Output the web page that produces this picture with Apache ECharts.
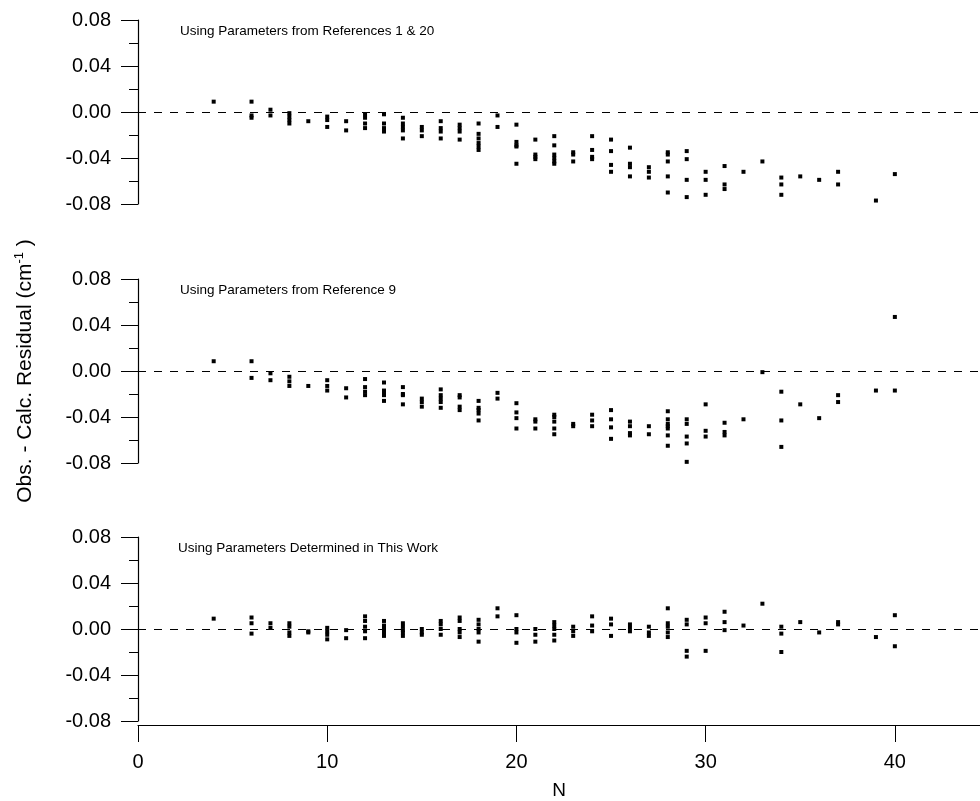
<!DOCTYPE html>
<html>
<head>
    <meta charset="utf-8">
    <title>Residuals</title>
    <script src="https://cdn.jsdelivr.net/npm/echarts@6/dist/echarts.min.js"></script>
    <style type="text/css">
        html, body { margin: 0; padding: 0; background: #fff; }
        #chart { width: 980px; height: 801px; }
    </style>
</head>
<body>
    <div id="chart"></div>
    <script type="text/javascript">
        // N values shared by all three panels
        var nValues = [4, 6, 7, 8, 9, 10, 11, 12, 13, 14, 15, 16, 17, 18, 19, 20, 21, 22, 23, 24,
                       25, 26, 27, 28, 29, 30, 31, 32, 33, 34, 35, 36, 37, 39, 40];

        // residuals read per N, panel 1 (References 1 & 20)
        var resRef1and20 = [
            [0.009], [0.009, -0.003, -0.005], [0.002, -0.003], [-0.001, -0.004, -0.007, -0.010],
            [-0.008], [-0.004, -0.007, -0.013], [-0.008, -0.016], [-0.002, -0.005, -0.010, -0.014],
            [-0.002, -0.010, -0.014, -0.017], [-0.005, -0.010, -0.013, -0.016, -0.023],
            [-0.013, -0.016, -0.021], [-0.008, -0.014, -0.017, -0.023], [-0.011, -0.014, -0.017, -0.024],
            [-0.010, -0.019, -0.023, -0.027, -0.030, -0.033], [-0.003, -0.013],
            [-0.011, -0.026, -0.029, -0.030, -0.045], [-0.024, -0.037, -0.039, -0.041],
            [-0.021, -0.029, -0.037, -0.040, -0.043, -0.045], [-0.035, -0.037, -0.043],
            [-0.021, -0.033, -0.039, -0.041], [-0.024, -0.034, -0.046, -0.052],
            [-0.031, -0.045, -0.048, -0.056], [-0.048, -0.052, -0.057],
            [-0.035, -0.037, -0.043, -0.056, -0.070], [-0.034, -0.041, -0.059, -0.074],
            [-0.052, -0.059, -0.072], [-0.047, -0.063, -0.067], [-0.052], [-0.043],
            [-0.057, -0.063, -0.072], [-0.056], [-0.059], [-0.052, -0.063], [-0.077], [-0.054]
        ];

        // panel 2 (Reference 9)
        var resRef9 = [
            [0.0085], [0.0085, -0.006], [-0.002, -0.008], [-0.005, -0.009, -0.013], [-0.013],
            [-0.008, -0.013, -0.017], [-0.015, -0.023], [-0.007, -0.014, -0.018, -0.021],
            [-0.010, -0.017, -0.020, -0.021, -0.026], [-0.014, -0.020, -0.021, -0.029],
            [-0.024, -0.027, -0.031], [-0.016, -0.021, -0.024, -0.027, -0.032],
            [-0.021, -0.023, -0.031, -0.034], [-0.026, -0.032, -0.034, -0.037, -0.043],
            [-0.019, -0.024], [-0.028, -0.036, -0.041, -0.050], [-0.042, -0.044, -0.050],
            [-0.038, -0.040, -0.044, -0.050, -0.055], [-0.046, -0.048], [-0.038, -0.043, -0.048],
            [-0.034, -0.042, -0.049, -0.059], [-0.044, -0.048, -0.054, -0.056], [-0.048, -0.055],
            [-0.035, -0.042, -0.046, -0.048, -0.050, -0.056, -0.065],
            [-0.042, -0.046, -0.057, -0.063, -0.079], [-0.029, -0.052, -0.057],
            [-0.045, -0.053, -0.056], [-0.042], [-0.001], [-0.018, -0.043, -0.066], [-0.029],
            [-0.041], [-0.021, -0.027], [-0.017], [0.047, -0.017]
        ];

        // panel 3 (this work)
        var resThisWork = [
            [0.009], [0.010, 0.005, -0.004], [0.005, 0.001], [0.005, 0.002, -0.003, -0.006],
            [-0.002, -0.003], [0.001, -0.002, -0.005, -0.009], [-0.001, -0.008],
            [0.011, 0.007, 0.002, -0.002, -0.008], [0.007, 0.003, 0.000, -0.003, -0.006],
            [0.005, 0.002, -0.001, -0.003, -0.006], [0.000, -0.003, -0.005],
            [0.007, 0.004, 0.000, -0.005], [0.010, 0.007, 0.000, -0.003, -0.007],
            [0.008, 0.004, 0.000, -0.003, -0.011], [0.018, 0.011], [0.012, 0.000, -0.003, -0.012],
            [0.000, -0.005, -0.011], [0.006, 0.003, 0.000, -0.005, -0.010], [0.002, -0.002, -0.006],
            [0.011, 0.003, -0.002], [0.009, 0.004, -0.006], [0.004, 0.001, -0.002],
            [0.002, -0.003, -0.006], [0.018, 0.005, 0.002, -0.003, -0.007],
            [0.008, 0.004, -0.019, -0.024], [0.010, 0.005, -0.019], [0.015, 0.006, -0.001],
            [0.003], [0.022], [0.002, -0.004, -0.020], [0.006], [-0.003], [0.006, 0.004],
            [-0.007], [0.012, -0.015]
        ];

        var xTickValues = [0, 10, 20, 30, 40];

        var panelTitles = [
            'Using Parameters from References 1 & 20',
            'Using Parameters from Reference 9',
            'Using Parameters Determined in This Work'
        ];

        function toPoints(res) {
            var pts = [];
            for (var i = 0; i < nValues.length; i++) {
                for (var j = 0; j < res[i].length; j++) {
                    pts.push([nValues[i], res[i][j]]);
                }
            }
            return pts;
        }

        var font = 'Liberation Sans, Arial, sans-serif';
        var gridTops = [20, 279, 537];
        var grids = [], xAxes = [], yAxes = [], series = [], titles = [];
        var allRes = [resRef1and20, resRef9, resThisWork];

        for (var k = 0; k < 3; k++) {
            grids.push({ left: 138, right: 0, top: gridTops[k], height: 184, outerBoundsMode: 'none' });
            xAxes.push({
                gridIndex: k,
                type: 'value',
                min: 0, max: 44.5,
                show: k == 2,
                offset: 4,
                name: k == 2 ? 'N' : '',
                nameLocation: 'middle',
                nameGap: 56,
                nameTextStyle: { color: '#000', fontSize: 19, fontFamily: font },
                axisLine: { onZero: false, lineStyle: { color: '#000', width: 1.2 } },
                axisTick: { length: 17, customValues: xTickValues, lineStyle: { color: '#000' } },
                axisLabel: { color: '#000', fontSize: 20, fontFamily: font, margin: 27, customValues: xTickValues },
                splitLine: { show: false }
            });
            yAxes.push({
                gridIndex: k,
                type: 'value',
                min: -0.08, max: 0.08, interval: 0.04,
                axisLine: { show: true, lineStyle: { color: '#000', width: 1.2 } },
                axisTick: { show: true, length: 17, lineStyle: { color: '#000' } },
                minorTick: { show: true, splitNumber: 2, length: 9, lineStyle: { color: '#000' } },
                axisLabel: {
                    color: '#000', fontSize: 20, fontFamily: font, margin: 27,
                    formatter: function (v) { return v.toFixed(2); }
                },
                splitLine: { show: false },
                name: k == 1 ? 'Obs. - Calc. Residual (cm{sup|-1}{n| )}' : '',
                nameLocation: 'middle',
                nameGap: 100,
                nameRotate: 90,
                nameTextStyle: {
                    color: '#000', fontSize: 21, fontFamily: font,
                    rich: {
                        sup: { fontSize: 13, fontFamily: font, color: '#000', padding: [0, 0, 12, 0] },
                        n: { fontSize: 21, fontFamily: font, color: '#000' }
                    }
                }
            });
            series.push({
                type: 'scatter',
                xAxisIndex: k,
                yAxisIndex: k,
                symbol: 'rect',
                symbolSize: 4,
                itemStyle: { color: '#000', opacity: 1 },
                data: toPoints(allRes[k]),
                markLine: {
                    silent: true,
                    symbol: 'none',
                    label: { show: false },
                    lineStyle: { color: '#000', width: 1, type: [8, 8] },
                    data: [{ yAxis: 0 }]
                }
            });
            titles.push({
                text: panelTitles[k],
                left: k == 2 ? 173 : 175,
                top: gridTops[k] - 1,
                textStyle: { color: '#000', fontSize: 13.5, fontWeight: 'normal', fontFamily: font }
            });
        }

        var chart = echarts.init(document.getElementById('chart'));
        chart.setOption({
            animation: false,
            backgroundColor: '#fff',
            title: titles,
            grid: grids,
            xAxis: xAxes,
            yAxis: yAxes,
            series: series
        });
    </script>
</body>
</html>
